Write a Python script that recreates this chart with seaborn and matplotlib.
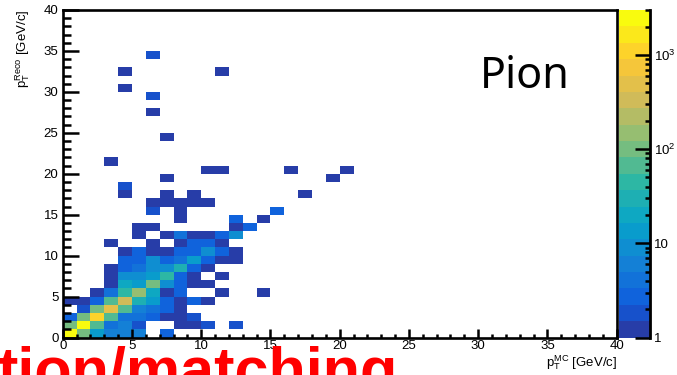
import numpy as np
import pandas as pd
import matplotlib
matplotlib.use("Agg")
import matplotlib.pyplot as plt
import seaborn as sns
from matplotlib.colors import LogNorm, ListedColormap, LinearSegmentedColormap
from matplotlib.ticker import MultipleLocator, FuncFormatter, LogLocator

# ---------------- data (lower bin edge in GeV/c, 1 GeV/c bins) ----------------
pt_mc_bin = [
    0, 1, 2, 3, 4, 5, 7,                      # reco 0
    0, 1, 2, 3, 4, 5, 8, 9, 10, 12,           # reco 1
    0, 1, 2, 3, 4, 5, 6, 7, 8, 9,             # reco 2
    1, 2, 3, 4, 5, 6, 7, 8,                   # reco 3
    0, 1, 2, 3, 4, 5, 6, 7, 8, 9, 10,         # reco 4
    2, 3, 4, 5, 6, 7, 8, 11, 14,              # reco 5
    3, 4, 5, 6, 7, 8, 9, 10,                  # reco 6
    3, 4, 5, 6, 7, 8, 9, 11,                  # reco 7
    3, 4, 5, 6, 7, 8, 9, 10,                  # reco 8
    4, 5, 6, 7, 8, 9, 10, 11, 12,             # reco 9
    4, 5, 6, 7, 8, 9, 10, 11, 12,             # reco 10
    3, 6, 8, 9, 10, 11,                       # reco 11
    5, 7, 8, 9, 10, 11, 12,                   # reco 12
    5, 6, 12, 13,                             # reco 13
    8, 12, 14,                                # reco 14
    6, 8, 15,                                 # reco 15
    6, 7, 8, 9, 10,                           # reco 16
    4, 7, 9, 17,                              # reco 17
    4,                                        # reco 18
    7, 19,                                    # reco 19
    10, 11, 16, 20,                           # reco 20
    3,                                        # reco 21
    7,                                        # reco 24
    6,                                        # reco 27
    6,                                        # reco 29
    4,                                        # reco 30
    4, 11,                                    # reco 32
    6,                                        # reco 34
]
pt_reco_bin = (
    [0] * 7 + [1] * 10 + [2] * 10 + [3] * 8 + [4] * 11 + [5] * 9 + [6] * 8
    + [7] * 8 + [8] * 8 + [9] * 9 + [10] * 9 + [11] * 6 + [12] * 7 + [13] * 4
    + [14] * 3 + [15] * 3 + [16] * 5 + [17] * 4 + [18] + [19] * 2 + [20] * 4
    + [21] + [24] + [27] + [29] + [30] + [32] * 2 + [34]
)
counts = [
    2500, 90, 15, 6, 6, 7, 3,
    100, 2200, 70, 4, 6, 2, 1, 1, 2, 2,
    3, 100, 1000, 65, 4, 4, 3, 1, 1, 2,
    2, 95, 500, 60, 6, 4, 3, 1,
    1, 1, 3, 65, 330, 30, 14, 3, 1, 3, 1,
    1, 4, 40, 150, 20, 1, 3, 1, 1,
    1, 18, 14, 100, 9, 3, 1, 1,
    1, 8, 8, 14, 45, 3, 1, 1,
    1, 3, 4, 9, 10, 30, 3, 1,
    3, 3, 8, 3, 4, 12, 3, 1, 1,
    1, 3, 1, 1, 3, 3, 8, 3, 1,
    1, 1, 1, 3, 3, 1,
    1, 1, 4, 1, 1, 3, 8,
    1, 1, 1, 3,
    1, 3, 1,
    2, 1, 3,
    1, 1, 1, 1, 1,
    1, 1, 1, 1,
    2,
    1, 1,
    1, 1, 1, 1,
    1,
    1,
    1,
    2,
    1,
    1, 1,
    2,
]
n_bins = 40
z_min, z_max = 1, 3000
cbar_ticks = [1, 10, 100, 1000]
cbar_ticklabels = ["1", "10", r"$\mathregular{10^{2}}$", r"$\mathregular{10^{3}}$"]

# ---------------- ROOT kBird palette, 20 contour levels ----------------
bird_stops = [0.0, 0.125, 0.25, 0.375, 0.5, 0.625, 0.75, 0.875, 1.0]
bird_r = [0.2082, 0.0592, 0.0780, 0.0232, 0.1802, 0.5301, 0.8186, 0.9956, 0.9764]
bird_g = [0.1664, 0.3599, 0.5041, 0.6419, 0.7178, 0.7492, 0.7328, 0.7862, 0.9832]
bird_b = [0.5293, 0.8684, 0.8385, 0.7914, 0.6425, 0.4662, 0.3499, 0.1968, 0.0539]
bird = LinearSegmentedColormap.from_list(
    "bird", list(zip(bird_stops, zip(bird_r, bird_g, bird_b))))
n_levels = 20
cmap = ListedColormap([bird((i + 0.99) / n_levels) for i in range(n_levels)])

H = np.zeros((n_bins, n_bins))
for xb, yb, c in zip(pt_mc_bin, pt_reco_bin, counts):
    H[yb, xb] = c
df = pd.DataFrame(H, index=range(n_bins), columns=range(n_bins))

plt.rcParams["font.family"] = ["Liberation Sans", "DejaVu Sans"]
plt.rcParams["mathtext.fontset"] = "custom"
plt.rcParams["mathtext.rm"] = "Liberation Sans"

W, Hpx = 677, 375
fig = plt.figure(figsize=(W / 100, Hpx / 100), dpi=100)
ax = fig.add_axes([62.7 / W, 37.5 / Hpx, 554 / W, 327.5 / Hpx])
cax = fig.add_axes([618.5 / W, 37.5 / Hpx, 31.5 / W, 327.5 / Hpx])

sns.heatmap(df, ax=ax, cbar_ax=cax, cmap=cmap,
            norm=LogNorm(vmin=z_min, vmax=z_max),
            mask=(df == 0), linewidths=0,
            xticklabels=False, yticklabels=False)

ax.set_xlim(0, n_bins)
ax.set_ylim(0, n_bins)
for s in ax.spines.values():
    s.set_visible(True)
    s.set_linewidth(1.9)
    s.set_color("black")

fmt = FuncFormatter(lambda v, p: f"{v:g}")
for axis in (ax.xaxis, ax.yaxis):
    axis.set_major_locator(MultipleLocator(5))
    axis.set_minor_locator(MultipleLocator(1))
    axis.set_major_formatter(fmt)
ax.tick_params(axis="x", which="both", direction="in", top=False, bottom=True,
               labelsize=9.5, pad=1.5, width=1.8, labelrotation=0)
ax.tick_params(axis="x", which="major", length=6.5)
ax.tick_params(axis="x", which="minor", length=3.2)
ax.tick_params(axis="y", which="both", direction="in", left=True, right=False,
               labelsize=9.5, pad=3, width=1.8, labelrotation=0)
ax.tick_params(axis="y", which="major", length=11.5)
ax.tick_params(axis="y", which="minor", length=5.8)
ax.set_xlabel("")
ax.set_ylabel("")

# colorbar
cb = ax.collections[0].colorbar
cb.outline.set_linewidth(0)
cb.set_ticks(cbar_ticks)
cb.set_ticklabels(cbar_ticklabels)
cax.yaxis.set_minor_locator(LogLocator(base=10, subs=np.arange(2, 10)))
cax.spines["right"].set_visible(True)
cax.spines["right"].set_linewidth(2.0)
cax.tick_params(which="both", direction="in", right=True, left=False,
                width=1.8, labelsize=9.5, pad=3)
cax.tick_params(which="major", length=10.8)
cax.tick_params(which="minor", length=3.6)

# axis titles (ROOT style, at axis ends)
fig.text(23 / W, 1 - 10 / Hpx, r"$\mathregular{p_{T}^{Reco}}$ [GeV/c]",
         rotation=90, ha="center", va="top", fontsize=9.5)
fig.text(617 / W, (Hpx - 366) / Hpx, r"$\mathregular{p_{T}^{MC}}$ [GeV/c]",
         ha="right", va="baseline", fontsize=9.5)

ax.text(0.753, 0.762, "Pion", transform=ax.transAxes, fontsize=31,
        family=["Noto Sans", "DejaVu Sans"], ha="left", va="baseline")

fig.text(-0.004, -0.040, "tion/matching", color="#ff0000", fontsize=44,
         fontweight="bold", ha="left", va="baseline")

fig.savefig("out.png", dpi=100)
